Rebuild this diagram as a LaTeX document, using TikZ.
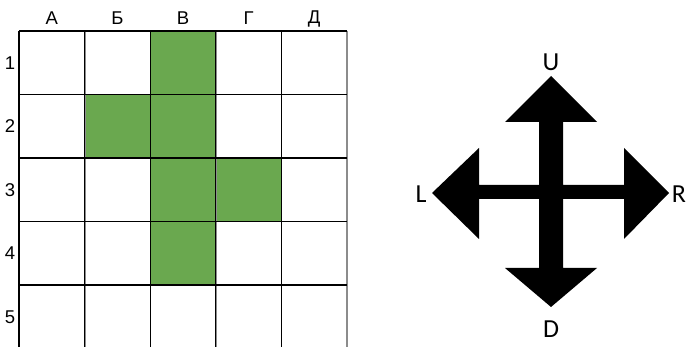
\documentclass[tikz,border=0pt]{standalone}
\usepackage{fontspec}
\setmainfont{Liberation Sans}
\newfontfamily\dirfont{Carlito}
\definecolor{cellgreen}{HTML}{6AA84F}
\definecolor{linegray}{HTML}{8C8C8C}
\begin{document}
\begin{tikzpicture}[x=1pt, y=-1pt,
    cell/.style={fill=cellgreen},
    blackline/.style={draw=black, line width=1.1pt},
    grayline/.style={draw=linegray, line width=2pt},
    headlabel/.style={font=\fontsize{18.5}{18.5}\selectfont, inner sep=0pt},
    dirlabel/.style={font=\dirfont\fontsize{26}{26}\selectfont, inner sep=0pt}
]
\useasboundingbox (0,0) rectangle (686,347);
\fill[white] (0,0) rectangle (686,347);
% green cells
\foreach \c/\r in {2/0, 1/1, 2/1, 2/2, 3/2, 2/3}
  \fill[cell] ({19+\c*65.6}, {31+\r*63.5}) rectangle ++(65.6, 63.5);
% grid
\begin{scope}
\clip (0,0) rectangle (686,347);
\foreach \c in {1,3,5}
  \draw[grayline] ({19+\c*65.6}, 31) -- ({19+\c*65.6}, 350);
\foreach \r in {0,...,5}
  \draw[blackline] (19, {31+\r*63.5}) -- (347, {31+\r*63.5});
\foreach \c in {0,...,4}
  \draw[blackline] ({19+\c*65.6}, 31) -- ({19+\c*65.6}, 350);
\end{scope}
% column and row labels
\foreach \t [count=\i from 0] in {А, Б, В, Г, Д}
  \node[headlabel] (col\i) at ({19+(\i+0.5)*65.6}, 18.5) {\t};
\foreach \i in {1,...,5}
  \node[headlabel] (row\i) at (10, {31+(\i-0.5)*63.5}) {\i};
% four-way arrow
\fill[black] (551,76) -- (597,122) -- (563,122) -- (563,185) -- (624,185)
  -- (624,148) -- (669,193) -- (624,239) -- (624,199) -- (563,199)
  -- (563,268) -- (597,268) -- (551,307) -- (505,268) -- (539,268)
  -- (539,199) -- (479,199) -- (479,239) -- (432,193) -- (479,148)
  -- (479,185) -- (539,185) -- (539,122) -- (505,122) -- cycle;
\node[dirlabel] (up) at (551,62) {U};
\node[dirlabel] (left) at (421,194) {L};
\node[dirlabel] (right) at (679,194) {R};
\node[dirlabel] (down) at (551,329) {D};
\end{tikzpicture}
\end{document}
